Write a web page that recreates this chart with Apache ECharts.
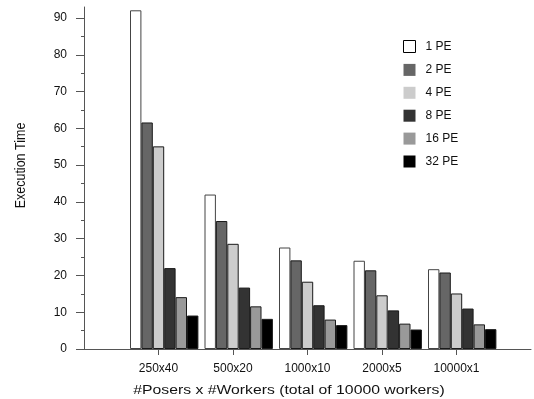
<!DOCTYPE html>
<html>
<head>
<meta charset="utf-8">
<script src="https://cdn.jsdelivr.net/npm/echarts@6/dist/echarts.min.js"></script>
<style>
html,body{margin:0;padding:0;background:#fff;}
#chart{width:534px;height:399px;}
</style>
</head>
<body>
<div id="chart"></div>
<script>
var categories = ['250x40', '500x20', '1000x10', '2000x5', '10000x1'];
var seriesNames = ['1 PE', '2 PE', '4 PE', '8 PE', '16 PE', '32 PE'];
var pe1  = [92.1, 42.0, 27.6, 24.0, 21.7];
var pe2  = [61.6, 34.8, 24.1, 21.4, 20.8];
var pe4  = [55.1, 28.6, 18.3, 14.6, 15.1];
var pe8  = [22.0, 16.7, 11.9, 10.5, 11.0];
var pe16 = [14.1, 11.6, 8.0, 6.9, 6.7];
var pe32 = [9.1, 8.2, 6.5, 5.3, 5.4];
var yMajorTicks = [0, 10, 20, 30, 40, 50, 60, 70, 80, 90];
var yMinorTicks = [5, 15, 25, 35, 45, 55, 65, 75, 85];
var xTitle = '#Posers x #Workers (total of 10000 workers)';
var yTitle = 'Execution Time';

var values = [pe1, pe2, pe4, pe8, pe16, pe32];
var colors = ['#ffffff', '#666666', '#cccccc', '#333333', '#999999', '#000000'];
var borders = ['#444444', '#1a1a1a', '#1a1a1a', '#1a1a1a', '#1a1a1a', '#1a1a1a'];
var axisCats = [''].concat(categories).concat(['']);

var fontFam = 'Liberation Sans, Arial, Helvetica, sans-serif';
var series = [{
  name: '__pad', type: 'bar', barWidth: 11.4, barGap: '0%',
  data: [], silent: true
}];
values.forEach(function (vals, k) {
  series.push({
    name: seriesNames[k],
    type: 'bar',
    barWidth: 11.4,
    barGap: '0%',
    itemStyle: { color: colors[k], borderColor: borders[k], borderWidth: 1 },
    data: [null].concat(vals).concat([null])
  });
});

var chart = echarts.init(document.getElementById('chart'), null, { renderer: 'canvas' });
chart.setOption({
  animation: false,
  backgroundColor: '#ffffff',
  textStyle: { fontFamily: fontFam },
  grid: { left: 84, right: -6, top: 7, bottom: 50, containLabel: false },
  legend: {
    orient: 'vertical',
    left: 398, top: 35,
    itemWidth: 12, itemHeight: 12, itemGap: 10.9,
    textStyle: { fontFamily: fontFam, fontSize: 12, color: '#111', padding: [0, 0, 0, 5] },
    data: seriesNames.map(function (n, k) {
      return {
        name: n, icon: 'rect',
        itemStyle: k === 0 ? { color: '#fff', borderColor: '#000', borderWidth: 1 } : { color: colors[k], borderWidth: 0 }
      };
    })
  },
  graphic: [{
    type: 'text',
    x: 289, y: 390.5,
    scaleX: 1.26,
    style: {
      text: xTitle, font: '12.5px ' + fontFam, fill: '#111',
      align: 'center', verticalAlign: 'middle', textAlign: 'center', textVerticalAlign: 'middle'
    }
  }, {
    type: 'text',
    x: 21, y: 165.5,
    rotation: Math.PI / 2,
    scaleY: 1.2,
    style: {
      text: yTitle, font: '12.5px ' + fontFam, fill: '#111',
      align: 'center', verticalAlign: 'middle', textAlign: 'center', textVerticalAlign: 'middle'
    }
  }],
  xAxis: {
    type: 'category',
    data: axisCats,
    boundaryGap: false,
    axisLine: { lineStyle: { color: '#555', width: 1 } },
    axisTick: { show: true, length: 6, inside: false, lineStyle: { color: '#555' },
      interval: function (i, v) { return v !== ''; } },
    axisLabel: { fontFamily: fontFam, fontSize: 12, color: '#111', margin: 14, interval: 0 },
    splitLine: { show: false }
  },
  yAxis: [{
    type: 'value',
    position: 'left',
    min: 0, max: 93,
    axisLine: { show: true, lineStyle: { color: '#555', width: 1 } },
    axisTick: { show: true, length: 8, lineStyle: { color: '#555' }, customValues: yMajorTicks },
    axisLabel: { fontFamily: fontFam, fontSize: 12, color: '#111', margin: 17, customValues: yMajorTicks },
    splitLine: { show: false }
  }, {
    type: 'value',
    position: 'left',
    offset: 0,
    min: 0, max: 93,
    axisLine: { show: false },
    axisTick: { show: true, length: 3, lineStyle: { color: '#555' }, customValues: yMinorTicks },
    axisLabel: { show: false },
    splitLine: { show: false }
  }],
  series: series
});
</script>
</body>
</html>
